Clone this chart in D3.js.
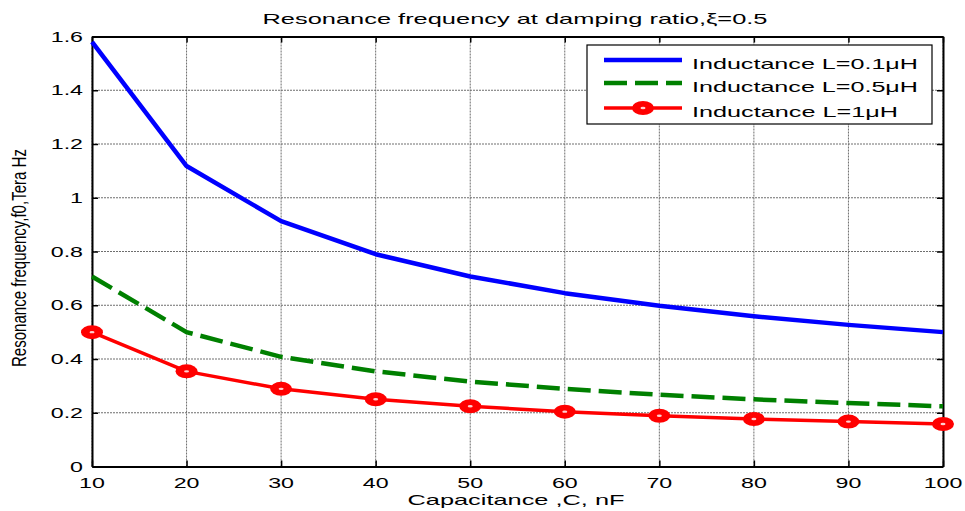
<!DOCTYPE html>
<html>
<head>
<meta charset="utf-8">
<script src="https://cdn.jsdelivr.net/npm/d3@7"></script>
<style>
  html, body { margin: 0; padding: 0; background: #fff; }
  svg { display: block; }
  text { font-family: Arial, "Liberation Sans", Helvetica, sans-serif; fill: #000; }
</style>
</head>
<body>
<svg id="chart" width="965" height="511"></svg>
<script>
// Capacitance values (nF)
const capacitance = [10, 20, 30, 40, 50, 60, 70, 80, 90, 100];

// Resonance frequency (Tera Hz) for each inductance
const freqL01 = [1.58, 1.118, 0.913, 0.79, 0.707, 0.645, 0.598, 0.559, 0.527, 0.50];
const freqL05 = [0.707, 0.50, 0.408, 0.354, 0.316, 0.289, 0.267, 0.25, 0.236, 0.224];
const freqL1  = [0.50, 0.354, 0.289, 0.25, 0.224, 0.204, 0.189, 0.177, 0.167, 0.158];

const seriesNames = ["Inductance L=0.1\u03BCH", "Inductance L=0.5\u03BCH", "Inductance L=1\u03BCH"];

const xTicks = [10, 20, 30, 40, 50, 60, 70, 80, 90, 100];
const yTicks = [0, 0.2, 0.4, 0.6, 0.8, 1, 1.2, 1.4, 1.6];

const titleText = "Resonance frequency at damping ratio,\u03BE=0.5";
const xLabelText = "Capacitance ,C, nF";
const yLabelText = "Resonance frequency,f0,Tera Hz";

const svg = d3.select("#chart");
const W = 965, H = 511;
const m = { left: 92, right: 22, top: 36.5, bottom: 44.5 };
const x0 = m.left, x1 = W - m.right, y0 = H - m.bottom, y1 = m.top;

const x = d3.scaleLinear().domain([10, 100]).range([x0, x1]);
const y = d3.scaleLinear().domain([0, 1.6]).range([y0, y1]);

// dotted grid
const grid = svg.append("g");
grid.selectAll(".gx").data(xTicks).join("line")
  .attr("x1", d => x(d)).attr("x2", d => x(d))
  .attr("y1", y0).attr("y2", y1)
  .attr("stroke", "#6e6e6e").attr("stroke-width", 1).attr("stroke-dasharray", "2,1");
grid.selectAll(".gy").data(yTicks).join("line")
  .attr("y1", d => y(d)).attr("y2", d => y(d))
  .attr("x1", x0).attr("x2", x1)
  .attr("stroke", "#6e6e6e").attr("stroke-width", 1).attr("stroke-dasharray", "2,1");

// axes (inward ticks, mirrored on top and right)
const tl = 6;
const axB = svg.append("g").attr("transform", `translate(0,${y0})`)
  .call(d3.axisBottom(x).tickValues(xTicks).tickSizeInner(-tl).tickSizeOuter(0).tickFormat(""));
const axT = svg.append("g").attr("transform", `translate(0,${y1})`)
  .call(d3.axisTop(x).tickValues(xTicks).tickSizeInner(-tl).tickSizeOuter(0).tickFormat(""));
const axL = svg.append("g").attr("transform", `translate(${x0},0)`)
  .call(d3.axisLeft(y).tickValues(yTicks).tickSizeInner(-tl).tickSizeOuter(0).tickFormat(""));
const axR = svg.append("g").attr("transform", `translate(${x1},0)`)
  .call(d3.axisRight(y).tickValues(yTicks).tickSizeInner(-tl).tickSizeOuter(0).tickFormat(""));
[axB, axT, axL, axR].forEach(a => {
  a.selectAll("path").attr("stroke", "#000").attr("stroke-width", 2);
  a.selectAll("line").attr("stroke", "#000").attr("stroke-width", 1.5);
});

// tick labels, drawn wide like the rest of the figure text
const sx = 1.6;
svg.append("g").selectAll("text").data(xTicks).join("text")
  .attr("transform", d => `translate(${x(d)},${y0 + 21.5}) scale(${sx},1)`)
  .attr("text-anchor", "middle").attr("font-size", 14.5)
  .text(d => d);
svg.append("g").selectAll("text").data(yTicks).join("text")
  .attr("transform", d => `translate(${x0 - 9},${y(d) + 5}) scale(${sx},1)`)
  .attr("text-anchor", "end").attr("font-size", 14.5)
  .text(d => d3.format("~g")(d));

// series
const line = d3.line().x((d, i) => x(capacitance[i])).y(d => y(d));
const plot = svg.append("g");
plot.append("path").datum(freqL01).attr("d", line)
  .attr("fill", "none").attr("stroke", "#0000ff").attr("stroke-width", 4.5)
  .attr("stroke-linejoin", "round");
plot.append("path").datum(freqL05).attr("d", line)
  .attr("fill", "none").attr("stroke", "#008000").attr("stroke-width", 4.5)
  .attr("stroke-dasharray", "23,8");
plot.append("path").datum(freqL1).attr("d", line)
  .attr("fill", "none").attr("stroke", "#ff0000").attr("stroke-width", 3.5)
  .attr("stroke-linejoin", "round");

function marker(g, cx, cy) {
  g.append("ellipse").attr("cx", cx).attr("cy", cy).attr("rx", 11).attr("ry", 7).attr("fill", "#ff0000");
  g.append("ellipse").attr("cx", cx).attr("cy", cy).attr("rx", 2.5).attr("ry", 1.2).attr("fill", "#ffd0d0");
}
const mk = plot.append("g");
freqL1.forEach((v, i) => marker(mk, x(capacitance[i]), y(v)));

// title and axis labels
svg.append("text").attr("x", 515).attr("y", 24).attr("text-anchor", "middle")
  .attr("font-size", 14.5).attr("textLength", 505).attr("lengthAdjust", "spacingAndGlyphs")
  .text(titleText);
svg.append("text").attr("x", 516).attr("y", 505).attr("text-anchor", "middle")
  .attr("font-size", 15).attr("textLength", 217).attr("lengthAdjust", "spacingAndGlyphs")
  .text(xLabelText);
svg.append("text").attr("transform", "translate(26,258) rotate(-90)").attr("text-anchor", "middle")
  .attr("font-size", 20).attr("textLength", 218).attr("lengthAdjust", "spacingAndGlyphs")
  .text(yLabelText);

// legend
const lg = svg.append("g");
lg.append("rect").attr("x", 587).attr("y", 45).attr("width", 345).attr("height", 79)
  .attr("fill", "#fff").attr("stroke", "#000").attr("stroke-width", 1.2);
const rows = [60, 83, 108];
const lens = [226, 226, 206];
const styles = [
  { c: "#0000ff", w: 4.5, dash: null },
  { c: "#008000", w: 4.5, dash: "23,8" },
  { c: "#ff0000", w: 3.5, dash: null }
];
rows.forEach((ry, i) => {
  const l = lg.append("line").attr("x1", 604).attr("x2", 682).attr("y1", ry).attr("y2", ry)
    .attr("stroke", styles[i].c).attr("stroke-width", styles[i].w);
  if (styles[i].dash) l.attr("stroke-dasharray", styles[i].dash);
  lg.append("text").attr("x", 692).attr("y", ry + 9).attr("font-size", 15)
    .attr("textLength", lens[i]).attr("lengthAdjust", "spacingAndGlyphs")
    .text(seriesNames[i]);
});
marker(lg, 643, rows[2]);
</script>
</body>
</html>
